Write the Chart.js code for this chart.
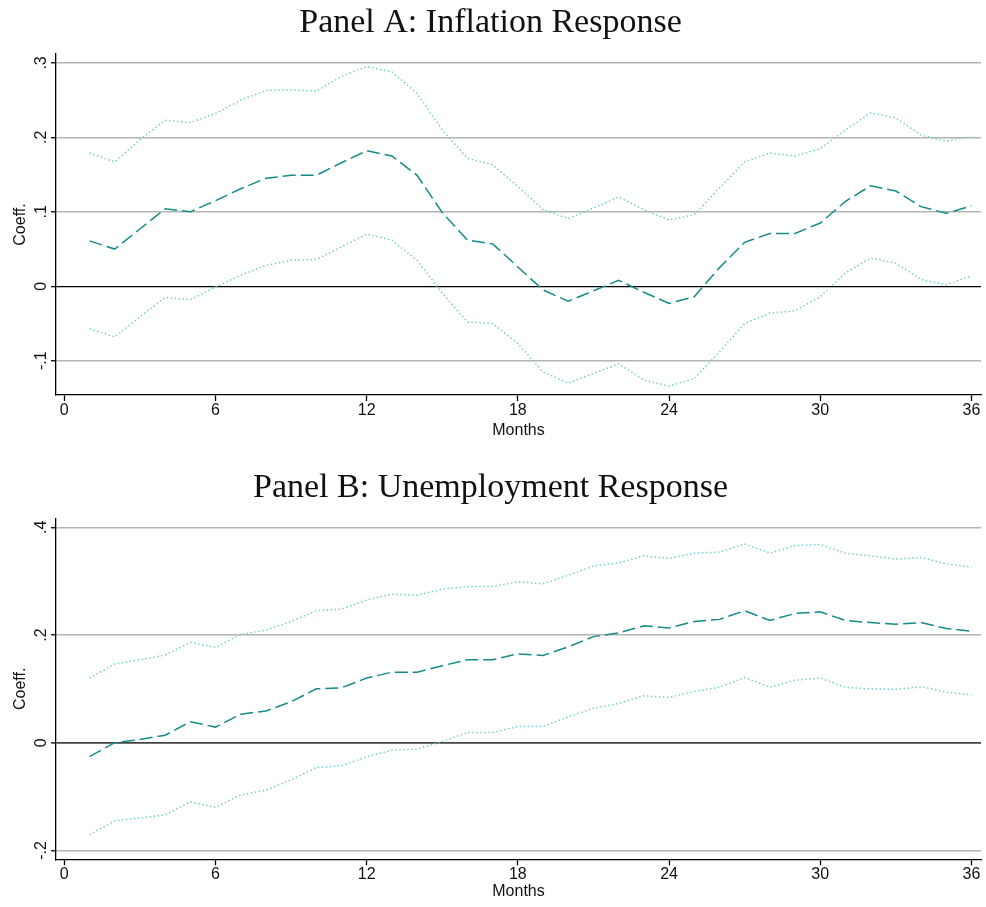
<!DOCTYPE html>
<html>
<head>
<meta charset="utf-8">
<title>Impulse responses</title>
<script src="https://cdn.jsdelivr.net/npm/chart.js@4.4.0/dist/chart.umd.min.js"></script>
<style>
  body { margin: 0; background: #fff; }
  .panel { position: absolute; left: 0; width: 986px; }
  #panelA { top: 0; height: 450px; }
  #panelB { top: 455px; height: 452px; }
</style>
</head>
<body>
<div class="panel" id="panelA"><canvas id="chartA"></canvas></div>
<div class="panel" id="panelB"><canvas id="chartB"></canvas></div>
<script>
// horizon in months
const months = [1, 2, 3, 4, 5, 6, 7, 8, 9, 10, 11, 12, 13, 14, 15, 16, 17, 18,
  19, 20, 21, 22, 23, 24, 25, 26, 27, 28, 29, 30, 31, 32, 33, 34, 35, 36];

// Panel A: inflation
const inflCoef = [0.061, 0.050, 0.077, 0.104, 0.100, 0.115, 0.131, 0.145, 0.149, 0.149, 0.166, 0.182,
  0.175, 0.149, 0.099, 0.062, 0.057, 0.026, -0.005, -0.020, -0.006, 0.008, -0.008, -0.023,
  -0.014, 0.025, 0.059, 0.071, 0.071, 0.085, 0.114, 0.135, 0.128, 0.107, 0.098, 0.108];
const inflUpper = [0.179, 0.167, 0.197, 0.223, 0.220, 0.232, 0.250, 0.263, 0.264, 0.262, 0.282, 0.295,
  0.288, 0.259, 0.210, 0.172, 0.163, 0.134, 0.103, 0.091, 0.105, 0.120, 0.103, 0.089,
  0.096, 0.132, 0.167, 0.179, 0.175, 0.185, 0.210, 0.233, 0.226, 0.203, 0.195, 0.201];
const inflLower = [-0.057, -0.068, -0.041, -0.015, -0.018, -0.001, 0.015, 0.028, 0.035, 0.036, 0.053, 0.070,
  0.062, 0.035, -0.009, -0.048, -0.050, -0.077, -0.115, -0.130, -0.117, -0.104, -0.126, -0.134,
  -0.124, -0.088, -0.050, -0.036, -0.033, -0.014, 0.018, 0.038, 0.031, 0.009, 0.002, 0.014];

// Panel B: unemployment
const unempCoef = [-0.026, 0.000, 0.006, 0.014, 0.039, 0.029, 0.053, 0.059, 0.076, 0.100, 0.102, 0.120,
  0.131, 0.131, 0.143, 0.154, 0.154, 0.165, 0.162, 0.178, 0.197, 0.204, 0.217, 0.213,
  0.225, 0.229, 0.245, 0.227, 0.240, 0.243, 0.227, 0.223, 0.220, 0.223, 0.212, 0.207];
const unempUpper = [0.120, 0.146, 0.154, 0.163, 0.186, 0.177, 0.201, 0.209, 0.225, 0.245, 0.248, 0.265,
  0.276, 0.274, 0.285, 0.290, 0.290, 0.299, 0.295, 0.311, 0.328, 0.334, 0.347, 0.342,
  0.352, 0.354, 0.369, 0.352, 0.366, 0.368, 0.352, 0.347, 0.341, 0.344, 0.332, 0.326];
const unempLower = [-0.171, -0.145, -0.140, -0.134, -0.110, -0.120, -0.097, -0.088, -0.069, -0.046, -0.043, -0.026,
  -0.014, -0.012, 0.002, 0.019, 0.019, 0.030, 0.030, 0.048, 0.064, 0.073, 0.087, 0.084,
  0.095, 0.103, 0.121, 0.103, 0.116, 0.120, 0.103, 0.100, 0.099, 0.104, 0.094, 0.089];

const xTicks = [0, 6, 12, 18, 24, 30, 36];
const inflTicks = [-0.1, 0, 0.1, 0.2, 0.3];
const unempTicks = [-0.2, 0, 0.2, 0.4];

const TEAL = '#148a8a';
const TEAL_LIGHT = '#78cccc';
const SANS = "'Liberation Sans', Arial, sans-serif";

function toPoints(values) {
  return months.map((m, i) => ({ x: m, y: values[i] }));
}

// stata-style labels: .1, -.2, 0
function fmtTick(v) {
  if (v === 0) return '0';
  return String(v).replace('0.', '.');
}

function makePanel(canvasId, titleText, coef, upper, lower, yRange, yTicks, cfg) {
  const bandStyle = {
    borderColor: TEAL_LIGHT,
    borderWidth: 1.5,
    borderDash: [1.5, 2.5],
    pointRadius: 0,
    fill: false,
    tension: 0
  };

  return new Chart(document.getElementById(canvasId), {
    type: 'line',
    data: {
      datasets: [
        Object.assign({ label: 'upper', data: toPoints(upper) }, bandStyle),
        Object.assign({ label: 'lower', data: toPoints(lower) }, bandStyle),
        {
          label: 'coef',
          data: toPoints(coef),
          borderColor: TEAL,
          borderWidth: 1.5,
          borderDash: [13, 5],
          pointRadius: 0,
          fill: false,
          tension: 0
        }
      ]
    },
    options: {
      responsive: true,
      maintainAspectRatio: false,
      animation: false,
      layout: { padding: { left: 0, right: 5, top: 0, bottom: cfg.padBottom } },
      plugins: {
        legend: { display: false },
        tooltip: { enabled: false },
        title: {
          display: true,
          text: titleText,
          color: '#111',
          font: { family: "'Liberation Serif', 'Times New Roman', serif", size: 34, weight: 'normal' },
          padding: { top: cfg.titleTop, bottom: cfg.titleBottom }
        }
      },
      scales: {
        x: {
          type: 'linear',
          min: -0.33,
          max: 36.38,
          afterBuildTicks: s => { s.ticks = xTicks.map(v => ({ value: v })); },
          afterFit: s => { s.height = cfg.xHeight; },
          ticks: { color: '#111', font: { family: SANS, size: 16 }, padding: 0, maxRotation: 0 },
          grid: { drawOnChartArea: false, drawTicks: true, tickLength: 6, tickColor: '#000', tickWidth: 1.3 },
          border: { display: true, color: '#000', width: 1.3 },
          title: {
            display: true,
            text: 'Months',
            color: '#111',
            font: { family: SANS, size: 16 },
            padding: { top: 0, bottom: 0 }
          }
        },
        y: {
          type: 'linear',
          min: yRange[0],
          max: yRange[1],
          afterBuildTicks: s => { s.ticks = yTicks.map(v => ({ value: v })); },
          afterFit: s => { s.width = 56; },
          ticks: {
            color: '#111',
            font: { family: SANS, size: 16 },
            minRotation: 90,
            maxRotation: 90,
            crossAlign: 'center',
            padding: 0,
            callback: v => fmtTick(v)
          },
          grid: {
            color: c => (c.tick && c.tick.value === 0 ? cfg.zeroColor : '#b4b4b4'),
            lineWidth: c => (c.tick && c.tick.value === 0 ? cfg.zeroWidth : 1.5),
            tickColor: '#000',
            tickLength: 5,
            tickWidth: 1.3
          },
          border: { display: true, color: '#000', width: 1.3 },
          title: {
            display: true,
            text: 'Coeff.',
            color: '#111',
            font: { family: SANS, size: 16 },
            padding: { top: 11, bottom: 0 }
          }
        }
      }
    }
  });
}

makePanel('chartA', 'Panel A: Inflation Response', inflCoef, inflUpper, inflLower,
  [-0.146, 0.312], inflTicks,
  { titleTop: 2.5, titleBottom: 10.7, padBottom: 10, xHeight: 45, zeroColor: '#000', zeroWidth: 1.3 });

makePanel('chartB', 'Panel B: Unemployment Response', unempCoef, unempUpper, unempLower,
  [-0.2165, 0.4167], unempTicks,
  { titleTop: 12.5, titleBottom: 10, padBottom: 5.7, xHeight: 42, zeroColor: '#444', zeroWidth: 1.8 });
</script>
</body>
</html>
